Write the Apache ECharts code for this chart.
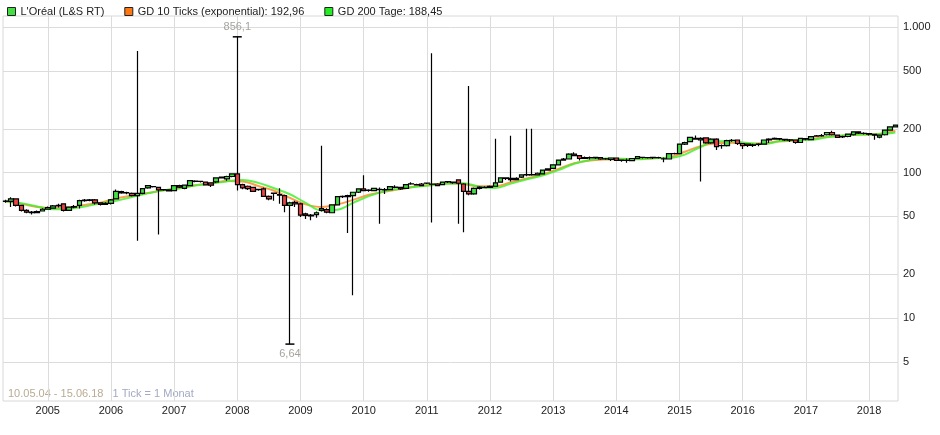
<!DOCTYPE html>
<html>
<head>
<meta charset="utf-8">
<script src="https://cdn.jsdelivr.net/npm/echarts@6/dist/echarts.min.js"></script>
<style>
  html, body { margin: 0; padding: 0; background: #fff; }
  #chart { width: 940px; height: 435px; }
</style>
</head>
<body>
<div id="chart"></div>
<script>
// monthly candles, May 2004 .. June 2018 (170 months)
// x value = months counted from Jan 2004, so May 2004 = 4
var firstMonth = 4;

var opens = [
  63.8, 63.5, 66, 59.5, 55, 53.5, 53, 54.5, 56, 57,
  59, 61, 55, 58, 59.5, 64.3, 64.5, 65, 62, 60.5,
  61.5, 66, 74, 72.5, 72, 69.5, 72, 78.5, 80, 79.2,
  76, 76, 75.3, 81.5, 78, 81.5, 87, 87.2, 86, 85,
  86.4, 92, 90.6, 94, 98, 82.7, 80.6, 79.2, 76.5, 77.3,
  68.6, 72, 70, 69.5, 59.5, 62.5, 61, 52.1, 51, 51.5,
  55, 55.6, 53, 60, 68.5, 68.5, 69.5, 73.3, 77.3, 75.5,
  75.3, 76.5, 76.5, 76.5, 79.2, 79.2, 78, 83.5, 82.7, 83.5,
  84.5, 83.5, 83.5, 82.7, 86.7, 86, 89, 83.5, 74.4, 71.4,
  78, 79.2, 79.2, 80.6, 86, 92, 91.4, 89.6, 93, 96.4,
  96.4, 96.4, 98, 104, 107, 113, 122, 124, 134, 131,
  125, 127, 126, 127, 124, 123, 126, 121.5, 121.5, 121,
  125, 127, 127, 126.5, 127, 124, 124, 135, 135, 157,
  163, 172, 168, 173, 160, 170, 153, 153, 166.5, 167.5,
  158.5, 157, 154, 156, 157, 168, 170, 171, 169, 168,
  167.5, 161, 171, 168.5, 178, 179, 182, 188.5, 181, 176,
  177, 182, 190.5, 186, 185, 183, 175, 182, 195.5, 206
];
var closes = [
  63.5, 66, 59.5, 55, 53.5, 53, 54, 56, 57.5, 59,
  59.5, 55, 58, 58.5, 64.3, 64.7, 65, 62, 60.5, 61.5,
  65, 74.4, 72.5, 72.8, 69.5, 72, 77.7, 81.5, 80.3, 76.1,
  76.3, 75, 81.5, 79.4, 82, 88, 87.5, 87, 82.3, 82,
  92, 93.3, 94, 98, 82.7, 78.5, 77.7, 74.4, 76.8, 68.6,
  66, 72.3, 70.5, 59.5, 62, 61, 51, 50.8, 50.5, 53,
  56.5, 53.5, 60, 68.5, 68.8, 69.5, 73.3, 77.3, 75.3, 75.8,
  78, 76.8, 76.2, 80, 79.5, 77.3, 82.7, 83.8, 82.4, 81.5,
  84.8, 83.2, 81.5, 86, 86.3, 85.3, 84.5, 74.4, 71.4, 78,
  79.5, 78.9, 80.6, 85, 92, 91.4, 89.6, 91.4, 96.4, 96.7,
  97, 99, 104, 106, 113, 122, 124, 134, 131, 125,
  127, 126.3, 127.3, 124, 124.3, 126, 121.5, 121.8, 121.2, 125,
  128.6, 127.3, 126.5, 127.3, 126.7, 124.3, 135, 135.3, 157, 161,
  174.5, 170, 172, 160, 170, 150.8, 153.4, 166, 166.2, 158.5,
  153, 153.5, 155, 157, 167.5, 170, 172, 170, 167.5, 167.2,
  161, 172, 170, 176.5, 179, 179.5, 188.5, 182, 174.5, 177,
  184, 190.5, 186.5, 185.8, 184, 181, 181, 195.5, 206, 212
];
var lows = [
  62, 58, 58.5, 54, 52.5, 51.5, 52.5, 54, 55.5, 56.5,
  57.5, 54, 54.5, 57, 56.7, 63, 63.5, 60.5, 59.5, 60,
  60.5, 65.5, 71.5, 71, 68.5, 34, 71, 77.5, 79, 37.5,
  75, 74.5, 75, 78.5, 77, 81, 86, 85.5, 81.5, 79.5,
  85, 91, 88, 93, 75.3, 77, 76, 73.5, 75, 68,
  64.5, 64, 61, 53.5, 6.64, 58, 49.5, 48, 47, 49,
  54, 52.5, 52.5, 59.5, 67, 38.5, 14.4, 72.5, 74.5, 74,
  74.5, 44.5, 71.4, 75.5, 78, 76, 77.5, 82.5, 81.5, 80.5,
  83.5, 45.5, 80.5, 82, 85, 84, 44.6, 39, 70, 70.5,
  76.5, 78, 79, 80, 85.5, 89, 87, 88.5, 92, 94.5,
  95, 95.5, 97.5, 103, 106, 112, 121, 123, 130, 121,
  124, 123, 124, 122.5, 122.5, 120, 120, 118.5, 117, 119.5,
  124, 125, 125, 124, 125, 117.6, 123, 133, 134, 155,
  162, 168, 87, 158, 158, 143, 146, 151, 163, 155,
  145, 150, 150, 152, 156, 160, 168, 167, 165, 162,
  158, 160, 167, 167, 176, 176, 180, 180, 173, 173,
  175, 180, 184, 183, 180, 168, 172, 180, 194, 205
];
var highs = [
  65, 67.7, 66.5, 60, 56, 54.5, 55, 57, 58.5, 60,
  61, 61.5, 58.5, 60, 65, 66, 66, 66, 62.5, 62.5,
  66, 76.5, 75, 74, 73, 685, 78.5, 82, 81, 80,
  77, 77, 82, 82.5, 83, 88.5, 88.5, 88, 87, 86,
  92.5, 94, 95, 99, 856.1, 84, 81.5, 80, 77.5, 79,
  69.5, 73, 78, 70.5, 63, 64, 62, 53, 52, 54,
  153, 57, 60.5, 69, 69.5, 70.5, 74, 78, 96, 77,
  78.5, 79, 78.5, 81, 82, 80, 83.5, 86, 84, 85,
  85.5, 660, 84.5, 87, 87.5, 87, 90, 84.5, 394, 79,
  80.5, 80.5, 81.5, 171, 92.5, 93, 179, 93, 97, 200,
  200, 100, 104.5, 107, 114, 123, 126, 136, 138, 132,
  129, 129, 128.5, 128, 126, 127, 127, 123, 125, 126,
  130, 128.5, 128, 128.5, 128.5, 127, 136, 137, 158, 163,
  176, 180, 175, 175, 172, 172, 156, 168, 170, 169,
  159, 158, 158, 159, 169, 172, 174, 173, 171, 170,
  169, 173, 173, 178, 181, 184, 190, 194, 183, 179,
  185, 192, 192, 189, 187, 184, 183, 197, 208, 214
];

// moving averages (candle index, value)
var maMonths = [0, 3, 6, 9, 12, 15, 18, 21, 24, 27, 30, 33, 36, 39, 42, 45, 48, 51, 54, 57,
  60, 63, 66, 69, 72, 75, 78, 81, 84, 87, 90, 93, 96, 99, 102, 105, 108, 111, 114, 117,
  120, 123, 126, 129, 132, 135, 138, 141, 144, 147, 150, 153, 156, 159, 162, 165, 168, 169];
var gd10 = [63.5, 61, 58, 57, 57.5, 60, 62, 66.5, 69.5, 72.5, 75.5, 78, 82, 84, 87.5, 87, 81, 75, 67, 60.5,
  58, 60.5, 65, 70.5, 74, 77, 80.5, 82.5, 84.5, 83.5, 80.5, 80.5, 86, 91, 97, 106, 116, 121, 123, 123.5,
  124, 125.5, 127, 139, 152, 159, 160.5, 158, 159, 164, 166, 170, 176, 179, 183, 183, 190, 192.96];
var gd200 = [63.5, 61.5, 58.5, 56, 56.5, 58.5, 61.5, 64, 68, 72, 75.5, 78, 81.5, 84, 87, 89, 85, 78, 71, 62,
  55, 55.5, 62, 69, 74.5, 77.5, 80, 82, 84, 84.5, 80, 78.5, 84, 90, 95.5, 104, 115, 122, 125, 124.5,
  123.5, 125.5, 126, 133, 150, 164, 164, 159.5, 157, 164, 167, 168, 175, 180, 182, 183, 186, 188.45];

var yTicks = [5, 10, 20, 50, 100, 200, 500, 1000];
var yearTicks = [2005, 2006, 2007, 2008, 2009, 2010, 2011, 2012, 2013, 2014, 2015, 2016, 2017, 2018];

var candles = [];
for (var i = 0; i < opens.length; i++) {
  candles.push([firstMonth + i, opens[i], closes[i], lows[i], highs[i]]);
}
var line10 = [], line200 = [];
for (var i = 0; i < maMonths.length; i++) {
  line10.push([firstMonth + maMonths[i], gd10[i]]);
  line200.push([firstMonth + maMonths[i], gd200[i]]);
}
// january of each year, in months from Jan 2004
var yearPos = yearTicks.map(function(y) { return (y - 2004) * 12; });

var chart = echarts.init(document.getElementById('chart'));
var option = {
  animation: false,
  textStyle: { fontFamily: 'Liberation Sans, Arial, sans-serif' },
  legend: {
    left: 2,
    top: 1,
    itemWidth: 8,
    itemHeight: 8,
    itemGap: 20,
    textStyle: { fontSize: 11, color: '#222' },
    data: [
      { name: "L'Oréal (L&S RT)", icon: 'rect', itemStyle: { color: '#44dd44', borderColor: '#222', borderWidth: 1 } },
      { name: 'GD 10 Ticks (exponential): 192,96', icon: 'rect', itemStyle: { color: '#ff7711', borderColor: '#222', borderWidth: 1 } },
      { name: 'GD 200 Tage: 188,45', icon: 'rect', itemStyle: { color: '#22ee22', borderColor: '#222', borderWidth: 1 } }
    ]
  },
  grid: {
    left: 3, right: 42, top: 16, bottom: 34,
    show: true, borderColor: '#d8d8d8', borderWidth: 1
  },
  xAxis: {
    type: 'value',
    min: firstMonth - 0.5,
    max: firstMonth + opens.length - 0.5,
    axisLine: { show: false },
    axisTick: { show: false, customValues: yearPos },
    axisLabel: {
      customValues: yearPos,
      margin: 4,
      fontSize: 11,
      color: '#222',
      formatter: function(v) { return String(2004 + Math.round(v / 12)); }
    },
    splitLine: { show: true, lineStyle: { color: '#dcdcdc', width: 1 } }
  },
  yAxis: {
    type: 'log',
    logBase: 10,
    position: 'right',
    min: 2.7,
    max: 1190,
    axisLine: { show: false },
    axisTick: { show: false, customValues: yTicks },
    axisLabel: {
      customValues: yTicks,
      margin: 5,
      fontSize: 11,
      color: '#222',
      formatter: function(v) { return v >= 999 ? '1.000' : String(Math.round(v)); }
    },
    splitLine: { show: true, lineStyle: { color: '#dcdcdc', width: 1 } }
  },
  series: [
    {
      name: 'GD 10 Ticks (exponential): 192,96',
      type: 'line',
      data: line10,
      smooth: 0.4,
      showSymbol: false,
      z: 1,
      lineStyle: { color: '#ff8a2a', width: 2, opacity: 0.85 },
      itemStyle: { color: '#ff7711' }
    },
    {
      name: 'GD 200 Tage: 188,45',
      type: 'line',
      data: line200,
      smooth: 0.4,
      showSymbol: false,
      z: 1,
      lineStyle: { color: '#44f033', width: 2, opacity: 0.85 },
      itemStyle: { color: '#22ee22' }
    },
    {
      name: "L'Oréal (L&S RT)",
      type: 'candlestick',
      data: candles,
      barWidth: 5,
      z: 3,
      itemStyle: {
        color: '#44dd44',
        color0: '#e84444',
        borderColor: '#000',
        borderColor0: '#000',
        borderWidth: 1.2
      },
      markPoint: {
        symbol: 'rect',
        symbolSize: [9, 1.5],
        itemStyle: { color: '#000' },
        label: { show: true, fontSize: 11, color: '#a5a39c' },
        data: [
          { coord: [firstMonth + 44, 856.1], value: 856.1,
            label: { position: 'top', distance: 4, formatter: '856,1' } },
          { coord: [firstMonth + 54, 6.64], value: 6.64,
            label: { position: 'bottom', distance: 4, formatter: '6,64' } }
        ]
      }
    }
  ],
  graphic: [
    {
      type: 'text',
      left: 8,
      top: 388,
      style: {
        text: '{a|10.05.04 - 15.06.18}   {b|1 Tick = 1 Monat}',
        fontSize: 11,
        fontFamily: 'Liberation Sans, Arial, sans-serif',
        rich: {
          a: { fontSize: 11, fill: '#b9ab92' },
          b: { fontSize: 11, fill: '#a2aac2' }
        }
      }
    }
  ]
};
chart.setOption(option);
</script>
</body>
</html>
